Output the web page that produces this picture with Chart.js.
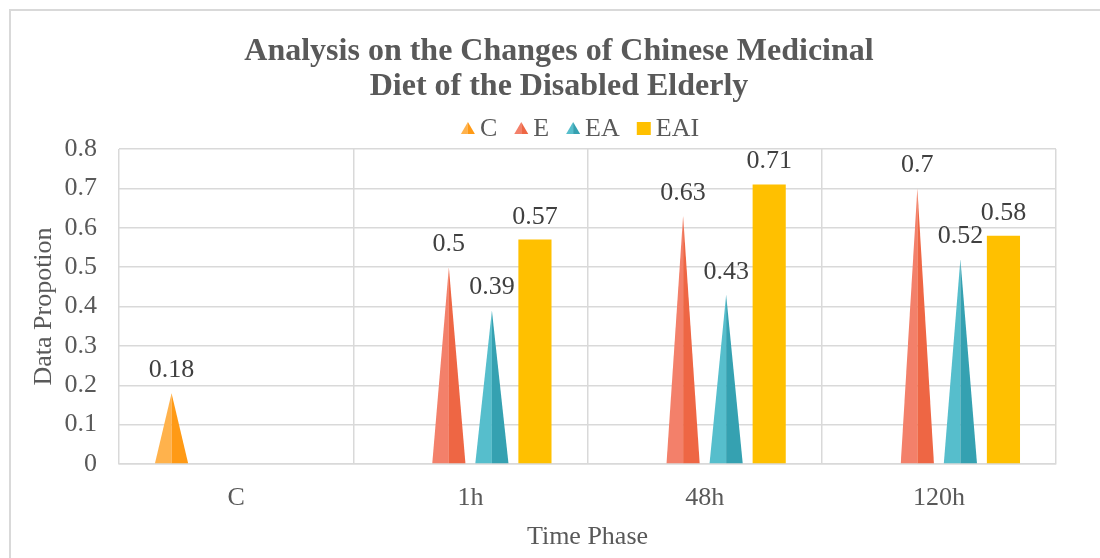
<!DOCTYPE html>
<html>
<head>
<meta charset="utf-8">
<script src="https://cdn.jsdelivr.net/npm/chart.js@4/dist/chart.umd.min.js"></script>
<style>
  html, body { margin: 0; padding: 0; background: #fff; }
  #wrap { position: relative; width: 1100px; height: 558px; overflow: hidden; }
  #frame { position: absolute; left: 9px; top: 9px; width: 1200px; height: 700px; border: 2px solid #D9D9D9; box-sizing: border-box; }
  canvas { position: absolute; left: 0; top: 0; }
</style>
</head>
<body>
<div id="wrap">
  <div id="frame"></div>
  <canvas id="chart" width="1100" height="558"></canvas>
</div>
<script>
// --- DATA ---
const categories = ['C', '1h', '48h', '120h'];
const seriesNames = ['C', 'E', 'EA', 'EAI'];
const valuesC = [0.18, null, null, null];
const valuesE = [null, 0.5, 0.63, 0.7];
const valuesEA = [null, 0.39, 0.43, 0.52];
const valuesEAI = [null, 0.57, 0.71, 0.58];
const yTicks = [0, 0.1, 0.2, 0.3, 0.4, 0.5, 0.6, 0.7, 0.8];
const titleLines = ['Analysis on the Changes of Chinese Medicinal', 'Diet of the Disabled Elderly'];

// --- STYLE ---
const FONT = "'Liberation Serif', 'Times New Roman', serif";
const TEXT = '#595959';
const GRID = '#D9D9D9';
const FS = 26;
// light (left half) / dark (right half) for the cone-like marks
const shades = {
    C: ['#FFB24C', '#FF9A15'],
    E: ['#F3806A', '#EE6644'],
    EA: ['#56BECC', '#35A1B1'],
    EAI: ['#FFC000', '#FFC000']
};

const makeSet = (name, data, shape) => ({
    label: name,
    data: data,
    shape: shape,
    backgroundColor: shape === 'triangle' ? 'rgba(0,0,0,0)' : shades[name][0],
    borderWidth: 0,
    barPercentage: 0.77,
    categoryPercentage: 0.735
});

// draws the triangles and the value labels on top of every mark
const pyramidPlugin = {
    id: 'pyramids',
    afterDatasetsDraw(chart) {
        const ctx = chart.ctx;
        chart.data.datasets.forEach((ds, i) => {
            const meta = chart.getDatasetMeta(i);
            meta.data.forEach((el, j) => {
                const v = ds.data[j];
                if (v === null || v === undefined) return;
                const half = el.width / 2;
                if (ds.shape === 'triangle') {
                    const [light, dark] = shades[ds.label];
                    ctx.save();
                    ctx.fillStyle = light;
                    ctx.beginPath();
                    ctx.moveTo(el.x - half, el.base);
                    ctx.lineTo(el.x, el.y);
                    ctx.lineTo(el.x, el.base);
                    ctx.closePath();
                    ctx.fill();
                    ctx.fillStyle = dark;
                    ctx.beginPath();
                    ctx.moveTo(el.x, el.base);
                    ctx.lineTo(el.x, el.y);
                    ctx.lineTo(el.x + half, el.base);
                    ctx.closePath();
                    ctx.fill();
                    ctx.restore();
                }
                ctx.save();
                ctx.font = FS + 'px ' + FONT;
                ctx.fillStyle = '#404040';
                ctx.textAlign = 'center';
                ctx.textBaseline = 'alphabetic';
                ctx.fillText(String(v), el.x, el.y - 16);
                ctx.restore();
            });
        });
    }
};

// title + legend, placed like the original (a bit right of the canvas centre)
const headerPlugin = {
    id: 'header',
    afterDraw(chart) {
        const ctx = chart.ctx;
        ctx.save();
        ctx.fillStyle = TEXT;
        ctx.textAlign = 'center';
        ctx.textBaseline = 'alphabetic';
        ctx.font = 'bold 32px ' + FONT;
        titleLines.forEach((line, k) => ctx.fillText(line, 559, 60 + k * 35));

        // legend
        ctx.textBaseline = 'middle';
        ctx.font = FS + 'px ' + FONT;
        const markW = 14, gapIn = 5, gapOut = 17;
        const items = chart.data.datasets.map(ds => ({ ds, w: ctx.measureText(ds.label).width }));
        const total = items.reduce((s, it) => s + markW + gapIn + it.w, 0) + gapOut * (items.length - 1);
        let x = 580 - total / 2;
        const cy = 128;
        ctx.textAlign = 'left';
        items.forEach(({ ds, w }) => {
            const [light, dark] = shades[ds.label];
            if (ds.shape === 'triangle') {
                ctx.fillStyle = light;
                ctx.beginPath();
                ctx.moveTo(x, cy + 6);
                ctx.lineTo(x + markW / 2, cy - 6);
                ctx.lineTo(x + markW / 2, cy + 6);
                ctx.closePath();
                ctx.fill();
                ctx.fillStyle = dark;
                ctx.beginPath();
                ctx.moveTo(x + markW / 2, cy + 6);
                ctx.lineTo(x + markW / 2, cy - 6);
                ctx.lineTo(x + markW, cy + 6);
                ctx.closePath();
                ctx.fill();
            } else {
                ctx.fillStyle = light;
                ctx.fillRect(x, cy - 6, markW, 13);
            }
            ctx.fillStyle = TEXT;
            ctx.fillText(ds.label, x + markW + gapIn, cy + 1);
            x += markW + gapIn + w + gapOut;
        });
        ctx.restore();
    }
};

const chart = new Chart(document.getElementById('chart').getContext('2d'), {
    type: 'bar',
    data: {
        labels: categories,
        datasets: [
            makeSet('C', valuesC, 'triangle'),
            makeSet('E', valuesE, 'triangle'),
            makeSet('EA', valuesEA, 'triangle'),
            makeSet('EAI', valuesEAI, 'rect')
        ]
    },
    options: {
        responsive: false,
        animation: false,
        layout: { padding: { top: 149, left: 29, right: 44, bottom: 5 } },
        plugins: {
            tooltip: { enabled: false },
            title: { display: false },
            legend: { display: false }
        },
        scales: {
            x: {
                afterFit: (axis) => { axis.height = 89; },
                grid: { color: GRID, lineWidth: 1.5, drawTicks: false },
                border: { color: GRID, width: 1.5 },
                ticks: { color: TEXT, font: { family: FONT, size: FS }, padding: 19 },
                title: { display: true, text: 'Time Phase', color: TEXT, font: { family: FONT, size: FS }, padding: { top: 7, bottom: 0 } }
            },
            y: {
                min: 0,
                max: 0.8,
                afterBuildTicks: (axis) => { axis.ticks = yTicks.map(v => ({ value: v })); },
                afterFit: (axis) => { axis.width = 90; },
                grid: { color: GRID, lineWidth: 1.5, drawTicks: false },
                border: { display: false },
                ticks: { color: TEXT, font: { family: FONT, size: FS }, padding: 22 },
                title: { display: true, text: 'Data Propotion', color: TEXT, font: { family: FONT, size: FS }, padding: { top: 0, bottom: 4 } }
            }
        }
    },
    plugins: [pyramidPlugin, headerPlugin]
});
</script>
</body>
</html>
